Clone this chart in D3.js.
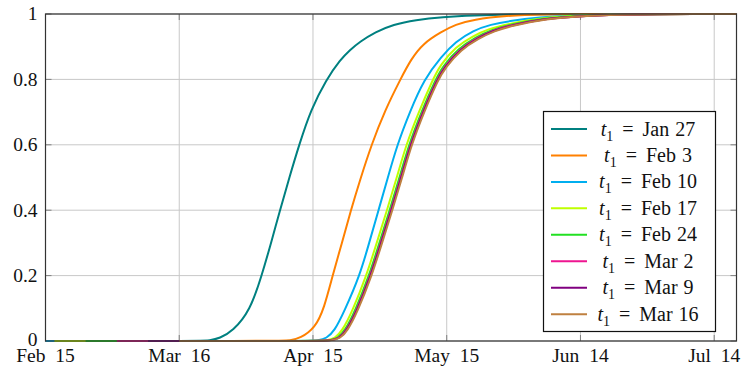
<!DOCTYPE html>
<html>
<head>
<meta charset="utf-8">
<script src="https://cdn.jsdelivr.net/npm/d3@7/dist/d3.min.js"></script>
<style>
  html, body { margin: 0; padding: 0; background: #fff; }
  svg { display: block; }
</style>
</head>
<body>
<div class="Chart"></div>
<script>
// days counted from Feb 15 (2020)
const xTickDays = [0, 30, 60, 90, 120, 150];
const xTickLabels = ['Feb 15', 'Mar 16', 'Apr 15', 'May 15', 'Jun 14', 'Jul 14'];
const yTicks = [0, 0.2, 0.4, 0.6, 0.8, 1];
const yTickLabels = ['0', '0.2', '0.4', '0.6', '0.8', '1'];

const t1Labels = ['Jan 27', 'Feb 3', 'Feb 10', 'Feb 17', 'Feb 24', 'Mar 2', 'Mar 9', 'Mar 16'];
const t1Colors = ['#008080', '#ff8000', '#00aeef', '#bfff00', '#22e022', '#ee1590', '#800080', '#bf8040'];

// [day, value] points
const jan27 = [[-19, 0], [34, 0], [37, 0.002], [39, 0.008], [42, 0.03], [45.9, 0.093], [48.5, 0.2], [50.6, 0.3], [52.6, 0.4],
  [54.7, 0.5], [56.9, 0.6], [59.5, 0.707], [63, 0.8], [66.1, 0.86], [68.3, 0.89], [70.5, 0.915], [74, 0.945],
  [78, 0.968], [83, 0.982], [89, 0.991], [96, 0.996], [105, 0.999], [115, 1], [155, 1]];
const feb3 = [[-12, 0], [52, 0], [55, 0.002], [57.1, 0.008], [60.5, 0.04], [62.5, 0.1], [64.4, 0.2], [66.5, 0.3], [68.5, 0.4],
  [70.5, 0.49], [73.1, 0.6], [76.2, 0.707], [79.6, 0.8], [82, 0.862], [84.7, 0.91], [88.7, 0.945], [92, 0.968],
  [95.9, 0.983], [103.5, 0.995], [111, 0.999], [125, 1], [155, 1]];
const feb10 = [[-5, 0], [58.5, 0], [61.3, 0.002], [63, 0.008], [64.8, 0.03], [67, 0.09], [70.5, 0.2], [72.6, 0.3], [74.7, 0.4],
  [76.8, 0.5], [78.9, 0.6], [81.7, 0.7], [84.9, 0.8], [88.8, 0.87], [92, 0.915], [95.9, 0.95], [100, 0.968],
  [103.7, 0.978], [110.9, 0.99], [118.3, 0.996], [126.6, 0.999], [140, 1], [155, 1]];
const feb17 = [[2, 0], [60.5, 0], [63.2, 0.002], [64.9, 0.008], [66.5, 0.03], [68.8, 0.09], [72, 0.2], [74.3, 0.3], [76.6, 0.4],
  [78.8, 0.5], [80.9, 0.6], [83.7, 0.7], [86.9, 0.8], [88.5, 0.843], [92, 0.9], [95.9, 0.933], [99.5, 0.955],
  [103.5, 0.969], [110.9, 0.988], [119.9, 0.996], [131, 0.999], [145, 1], [155, 1]];
const feb24 = [[9, 0], [61.1, 0], [63.8, 0.002], [65.5, 0.008], [67.1, 0.03], [69.4, 0.09], [72.6, 0.2], [74.9, 0.3], [77.2, 0.4],
  [79.4, 0.5], [81.5, 0.6], [84.3, 0.7], [87.5, 0.8], [89.1, 0.84], [92.6, 0.895], [96.5, 0.929], [100.1, 0.952],
  [104, 0.967], [111.5, 0.987], [120.5, 0.996], [132, 0.999], [146, 1], [155, 1]];
const mar2 = [[16, 0], [61.4, 0], [64.1, 0.002], [65.8, 0.008], [67.4, 0.03], [69.7, 0.09], [72.9, 0.2], [75.2, 0.3], [77.5, 0.4],
  [79.7, 0.5], [81.8, 0.6], [84.6, 0.7], [87.8, 0.8], [89.4, 0.838], [92.9, 0.893], [96.8, 0.927], [100.4, 0.95],
  [104.3, 0.966], [111.8, 0.986], [120.8, 0.995], [132, 0.999], [146, 1], [155, 1]];
const mar9 = [[23, 0], [61.5, 0], [64.2, 0.002], [65.9, 0.008], [67.5, 0.03], [69.8, 0.09], [73, 0.2], [75.3, 0.3], [77.6, 0.4],
  [79.8, 0.5], [81.9, 0.6], [84.7, 0.7], [87.9, 0.8], [89.5, 0.837], [93, 0.892], [96.9, 0.926], [100.5, 0.949],
  [104.4, 0.965], [111.9, 0.986], [120.9, 0.995], [132, 0.999], [146, 1], [155, 1]];
const mar16 = [[30, 0], [61.7, 0], [64.4, 0.002], [66.1, 0.008], [67.7, 0.03], [70, 0.09], [73.2, 0.2], [75.5, 0.3], [77.8, 0.4],
  [80, 0.5], [82.1, 0.6], [84.9, 0.7], [88.1, 0.8], [89.7, 0.836], [93.2, 0.891], [97.1, 0.925], [100.7, 0.948],
  [104.6, 0.964], [112.1, 0.985], [121.1, 0.995], [132.5, 0.999], [147, 1], [155, 1]];

const seriesValues = [jan27, feb3, feb10, feb17, feb24, mar2, mar9, mar16];

const FONT = '"Liberation Serif", "DejaVu Serif", "Noto Serif", "Times New Roman", Times, serif';

drawChart();

function drawChart() {
  const width = 745, height = 369;
  const margin = { left: 45.5, right: 8.5, top: 14, bottom: 28 };
  const plotW = width - margin.left - margin.right;
  const plotH = height - margin.top - margin.bottom;

  const svg = d3.select('.Chart').append('svg')
    .attr('width', width)
    .attr('height', height)
    .attr('viewBox', `0 0 ${width} ${height}`)
    .attr('font-family', FONT);

  const g = svg.append('g').attr('transform', `translate(${margin.left}, ${margin.top})`);

  const xScale = d3.scaleLinear().domain([0, 155]).range([0, plotW]);
  const yScale = d3.scaleLinear().domain([0, 1]).range([plotH, 0]);

  svg.append('defs').append('clipPath').attr('id', 'plotClip')
    .append('rect').attr('x', 0).attr('y', -2).attr('width', plotW).attr('height', plotH + 4);

  // grid
  g.append('g').selectAll('line')
    .data(xTickDays)
    .enter().append('line')
    .attr('x1', d => xScale(d)).attr('x2', d => xScale(d))
    .attr('y1', 0).attr('y2', plotH)
    .style('stroke', '#c8c8c8').style('stroke-width', 1);
  g.append('g').selectAll('line')
    .data(yTicks)
    .enter().append('line')
    .attr('x1', 0).attr('x2', plotW)
    .attr('y1', d => yScale(d)).attr('y2', d => yScale(d))
    .style('stroke', '#c8c8c8').style('stroke-width', 1);

  // tick marks, inside on every side
  const tickLen = 6;
  const ticks = g.append('g').style('stroke', '#808080').style('stroke-width', 1);
  xTickDays.forEach(d => {
    ticks.append('line').attr('x1', xScale(d)).attr('x2', xScale(d)).attr('y1', 0).attr('y2', tickLen);
    ticks.append('line').attr('x1', xScale(d)).attr('x2', xScale(d)).attr('y1', plotH).attr('y2', plotH - tickLen);
  });
  yTicks.forEach(d => {
    ticks.append('line').attr('x1', 0).attr('x2', tickLen).attr('y1', yScale(d)).attr('y2', yScale(d));
    ticks.append('line').attr('x1', plotW).attr('x2', plotW - tickLen).attr('y1', yScale(d)).attr('y2', yScale(d));
  });

  // curves
  const line = d3.line()
    .x(d => xScale(d[0]))
    .y(d => yScale(d[1]))
    .curve(d3.curveBasis);

  g.append('g').attr('clip-path', 'url(#plotClip)')
    .selectAll('path')
    .data(seriesValues)
    .enter().append('path')
    .attr('d', d => line(d))
    .attr('fill', 'none')
    .attr('stroke', (d, i) => t1Colors[i])
    .attr('stroke-width', 2);

  // frame
  g.append('rect')
    .attr('x', 0).attr('y', 0).attr('width', plotW).attr('height', plotH)
    .attr('fill', 'none').attr('stroke', '#333').attr('stroke-width', 1.2);

  // tick labels
  g.append('g').selectAll('text')
    .data(xTickDays)
    .enter().append('text')
    .attr('x', d => xScale(d))
    .attr('y', plotH + 21)
    .attr('text-anchor', 'middle')
    .attr('font-family', FONT)
    .style('font-size', '19.5px')
    .style('word-spacing', '5px')
    .style('fill', '#111')
    .text((d, i) => xTickLabels[i]);

  g.append('g').selectAll('text')
    .data(yTicks)
    .enter().append('text')
    .attr('x', -8)
    .attr('y', d => yScale(d) - (d === 0 ? 1.5 : 0))
    .attr('dy', '0.33em')
    .attr('text-anchor', 'end')
    .attr('font-family', FONT)
    .style('font-size', '19.5px')
    .style('fill', '#111')
    .text((d, i) => yTickLabels[i]);

  // legend
  const legendW = 172, rowH = 26.45;
  const legendH = 220;
  const legendX = plotW - 21 - legendW;
  const legendY = plotH - 9.5 - legendH;
  const legend = g.append('g').attr('transform', `translate(${legendX}, ${legendY})`);
  legend.append('rect')
    .attr('x', 0).attr('y', 0).attr('width', legendW).attr('height', legendH)
    .attr('fill', '#fff').attr('stroke', '#111').attr('stroke-width', 1.2);

  const rows = legend.selectAll('.row')
    .data(t1Labels)
    .enter().append('g')
    .attr('class', 'row')
    .attr('transform', (d, i) => `translate(0, ${17.5 + i * rowH})`);

  rows.append('line')
    .attr('x1', 7.5).attr('x2', 43.5)
    .attr('y1', 0).attr('y2', 0)
    .attr('stroke', (d, i) => t1Colors[i])
    .attr('stroke-width', 2);

  const label = rows.append('text')
    .attr('x', 104.5)
    .attr('y', 6.5)
    .attr('text-anchor', 'middle')
    .attr('font-family', FONT)
    .style('font-size', '20px')
    .style('fill', '#111');
  label.append('tspan').style('font-style', 'italic').text('t');
  label.append('tspan').attr('dy', 5).style('font-size', '14px').text('1');
  label.append('tspan').attr('dy', -5).attr('dx', 9).text('=');
  label.append('tspan').attr('dx', 9).style('word-spacing', '1px').text(d => d);
}
</script>
</body>
</html>
